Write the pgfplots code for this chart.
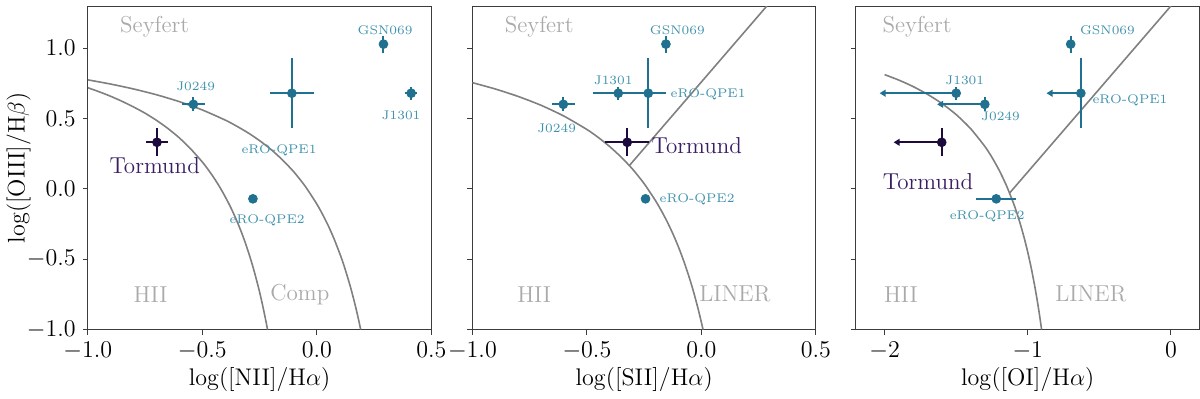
\documentclass[border=0pt]{standalone}
\usepackage{pgfplots}
\pgfplotsset{compat=1.18}
\usetikzlibrary{arrows.meta}

\definecolor{ptc}{RGB}{32,113,143}
\definecolor{lblc}{RGB}{64,146,173}
\definecolor{tmc}{RGB}{29,11,61}
\definecolor{tmlbl}{RGB}{58,30,100}
\definecolor{regc}{RGB}{170,170,170}
\definecolor{demc}{RGB}{128,128,128}
\definecolor{axc}{RGB}{60,60,60}

\newcommand{\mainfs}{\fontsize{11.5}{13}\selectfont}
\newcommand{\smallfs}{\fontsize{6.3}{8}\selectfont}

\tikzset{
  reg/.style={regc, font=\mainfs},
  lbl/.style={lblc, font=\smallfs},
  tml/.style={tmlbl, font=\fontsize{11.5}{13}\selectfont},
}

\begin{document}
\begin{tikzpicture}
\pgfplotsset{
  bpt/.style={
    scale only axis, width=171.5pt, height=161.5pt,
    ymin=-1, ymax=1.3,
    ytick={-1,-0.5,0,0.5,1},
    tick pos=left, tick align=outside, major tick length=2.5pt,
    axis line style={draw=axc, line width=0.5pt},
    every tick/.style={draw=axc, line width=0.5pt},
    tick label style={font=\mainfs},
    label style={font=\mainfs},
    xlabel style={yshift=2.5pt},
    yticklabel style={/pgf/number format/.cd, fixed, fixed zerofill, precision=1},
  },
  dem/.style={demc, line width=0.8pt, no markers, smooth, tension=0.4},
  pts/.style={only marks, mark=*, mark size=2.2pt, color=#1,
    error bars/.cd, x dir=both, x explicit, y dir=both, y explicit,
    error mark=none, error bar style={line width=1pt}},
}

% ---------- [NII] ----------
\begin{axis}[bpt, name=a1, xmin=-1, xmax=0.5, xtick={-1,-0.5,0,0.5},
  xticklabel style={/pgf/number format/.cd, fixed, fixed zerofill, precision=1},
  xlabel={$\log([\mathrm{NII}]/\mathrm{H}\alpha)$},
  ylabel={$\log([\mathrm{OIII}]/\mathrm{H}\beta)$},
  ylabel style={at={(rel axis cs:0,0.5)}, anchor=center, yshift=34.5pt}]
% Kauffmann 2003
\addplot[dem] coordinates {(-1.0,0.719) (-0.95,0.690) (-0.9,0.658) (-0.85,0.622) (-0.8,0.582)
  (-0.75,0.538) (-0.7,0.487) (-0.65,0.429) (-0.6,0.362) (-0.55,0.283) (-0.5,0.191)
  (-0.475,0.138) (-0.45,0.080) (-0.425,0.016) (-0.4,-0.056) (-0.375,-0.135) (-0.35,-0.225)
  (-0.33,-0.305) (-0.31,-0.394) (-0.29,-0.494) (-0.275,-0.577) (-0.26,-0.668)
  (-0.25,-0.733) (-0.24,-0.803) (-0.23,-0.879) (-0.22,-0.959) (-0.2152,-1.000)};
% Kewley 2001
\addplot[dem] coordinates {(-1.0,0.775) (-0.9,0.745) (-0.8,0.710) (-0.7,0.669) (-0.6,0.620)
  (-0.5,0.561) (-0.4,0.489) (-0.35,0.446) (-0.3,0.398) (-0.25,0.343) (-0.2,0.280)
  (-0.15,0.206) (-0.1,0.120) (-0.05,0.017) (0.0,-0.108) (0.025,-0.181) (0.05,-0.262)
  (0.075,-0.354) (0.1,-0.459) (0.11,-0.504) (0.125,-0.578) (0.14,-0.659) (0.15,-0.716)
  (0.16,-0.778) (0.17,-0.843) (0.175,-0.878) (0.18,-0.913) (0.185,-0.950) (0.1915,-1.000)};
\addplot[pts=ptc] table[x=x, y=y, x error=ex, y error=ey] {
x y ex ey
0.291 1.029 0.016 0.06
0.412 0.680 0.027 0.047
-0.109 0.680 0.096 0.25
-0.539 0.601 0.049 0.05
-0.279 -0.071 0.012 0
};
\addplot[pts=tmc] table[x=x, y=y, x error=ex, y error=ey] {
x y ex ey
-0.698 0.331 0.05 0.10
};
\node[reg] at (axis cs:-0.708,1.15) {Seyfert};
\node[reg] at (axis cs:-0.726,-0.75) {HII};
\node[reg] at (axis cs:-0.074,-0.75) {Comp};
\node[lbl] at (axis cs:0.298,1.126) {GSN069};
\node[lbl] at (axis cs:-0.529,0.727) {J0249};
\node[lbl] at (axis cs:0.368,0.525) {J1301};
\node[lbl] at (axis cs:-0.165,0.276) {eRO-QPE1};
\node[lbl] at (axis cs:-0.217,-0.223) {eRO-QPE2};
\node[tml] at (axis cs:-0.708,0.164) {Tormund};
\end{axis}

% ---------- [SII] ----------
\begin{axis}[bpt, at={(192pt,0)}, xmin=-1, xmax=0.5, xtick={-1,-0.5,0,0.5},
  xticklabel style={/pgf/number format/.cd, fixed, fixed zerofill, precision=1},
  yticklabels={},
  xlabel={$\log([\mathrm{SII}]/\mathrm{H}\alpha)$}]
\addplot[dem] coordinates {(-1.0,0.755) (-0.9,0.710) (-0.8,0.657) (-0.7,0.594) (-0.6,0.517)
  (-0.5,0.422) (-0.45,0.365) (-0.4,0.300) (-0.35,0.225) (-0.3,0.139) (-0.25,0.037)
  (-0.2,-0.085) (-0.175,-0.155) (-0.15,-0.232) (-0.125,-0.318) (-0.1,-0.414)
  (-0.075,-0.523) (-0.05,-0.646) (-0.035,-0.728) (-0.02,-0.818) (-0.01,-0.882)
  (0.0,-0.950) (0.007,-1.000)};
\addplot[demc, line width=0.8pt, no markers] coordinates {(-0.315,0.165) (0.2857,1.3)};
\addplot[pts=ptc] table[x=x, y=y, x error=ex, y error=ey] {
x y ex ey
-0.155 1.029 0.016 0.06
-0.363 0.680 0.109 0.047
-0.232 0.680 0.076 0.25
-0.603 0.601 0.049 0.05
-0.244 -0.071 0.012 0
};
\addplot[pts=tmc] table[x=x, y=y, x error=ex, y error=ey] {
x y ex ey
-0.324 0.331 0.095 0.10
};
\node[reg] at (axis cs:-0.708,1.15) {Seyfert};
\node[reg] at (axis cs:-0.730,-0.75) {HII};
\node[reg] at (axis cs:0.146,-0.75) {LINER};
\node[lbl] at (axis cs:-0.105,1.126) {GSN069};
\node[lbl] at (axis cs:-0.385,0.775) {J1301};
\node[lbl] at (axis cs:0.029,0.675) {eRO-QPE1};
\node[lbl] at (axis cs:-0.632,0.430) {J0249};
\node[lbl] at (axis cs:-0.019,-0.073) {eRO-QPE2};
\node[tml] at (axis cs:-0.020,0.306) {Tormund};
\end{axis}

% ---------- [OI] ----------
\begin{axis}[bpt, at={(383.5pt,0)}, xmin=-2.2, xmax=0.2, xtick={-2,-1,0},
  yticklabels={},
  xlabel={$\log([\mathrm{OI}]/\mathrm{H}\alpha)$}]
\addplot[dem] coordinates {(-2.0,0.812) (-1.9,0.773) (-1.8,0.727) (-1.7,0.672) (-1.6,0.607)
  (-1.5,0.528) (-1.4,0.429) (-1.3,0.302) (-1.25,0.224) (-1.2,0.133) (-1.15,0.026)
  (-1.1,-0.101) (-1.075,-0.175) (-1.05,-0.257) (-1.025,-0.348) (-1.0,-0.450)
  (-0.975,-0.566) (-0.95,-0.698) (-0.935,-0.786) (-0.92,-0.882) (-0.91,-0.951)
  (-0.9033,-1.000)};
\addplot[demc, line width=0.8pt, no markers] coordinates {(-1.127,-0.030) (0.0,1.30)};
% upper limits
\addplot[ptc, line width=1pt, -{Triangle[length=3pt,width=3.4pt]},
  quiver={u=\thisrow{u}, v=0}] table {
x y u
-0.629 0.680 -0.24
-1.500 0.680 -0.535
-1.300 0.601 -0.333
};
\addplot[tmc, line width=1pt, -{Triangle[length=3pt,width=3.4pt]},
  quiver={u=\thisrow{u}, v=0}] table {
x y u
-1.601 0.331 -0.336
};
\addplot[pts=ptc] table[x=x, y=y, x error=ex, y error=ey] {
x y ex ey
-0.700 1.029 0.03 0.06
-0.629 0.680 0 0.25
-1.500 0.680 0 0.045
-1.300 0.601 0 0.05
-1.220 -0.071 0.14 0
};
\addplot[pts=tmc] table[x=x, y=y, x error=ex, y error=ey] {
x y ex ey
-1.601 0.331 0 0.10
};
\node[reg] at (axis cs:-1.773,1.15) {Seyfert};
\node[reg] at (axis cs:-1.886,-0.75) {HII};
\node[reg] at (axis cs:-0.559,-0.75) {LINER};
\node[lbl] at (axis cs:-0.443,1.126) {GSN069};
\node[lbl] at (axis cs:-1.440,0.775) {J1301};
\node[lbl] at (axis cs:-1.190,0.516) {J0249};
\node[lbl] at (axis cs:-0.286,0.632) {eRO-QPE1};
\node[lbl] at (axis cs:-1.283,-0.192) {eRO-QPE2};
\node[tml] at (axis cs:-1.697,0.050) {Tormund};
\end{axis}
\path ([yshift=3pt]a1.north west);
\path ([yshift=-33pt]a1.south west);
\end{tikzpicture}
\end{document}
